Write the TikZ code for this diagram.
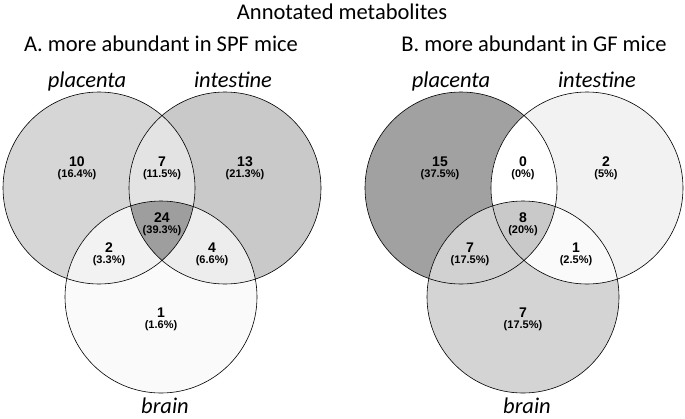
\documentclass[tikz,border=0pt]{standalone}
\usepackage{fontspec}
\setmainfont{Carlito}
\newfontfamily\numfont{Liberation Sans}
\usetikzlibrary{calc}

% grey levels of the regions
\definecolor{aP}{gray}{0.84}
\definecolor{aI}{gray}{0.79}
\definecolor{aPI}{gray}{0.89}
\definecolor{aPB}{gray}{0.95}
\definecolor{aIB}{gray}{0.93}
\definecolor{aPIB}{gray}{0.62}
\definecolor{aB}{gray}{0.98}
\definecolor{bP}{gray}{0.63}
\definecolor{bI}{gray}{0.95}
\definecolor{bPI}{gray}{1.00}
\definecolor{bPB}{gray}{0.82}
\definecolor{bIB}{gray}{0.98}
\definecolor{bPIB}{gray}{0.79}
\definecolor{bB}{gray}{0.83}

\tikzset{
  ring/.style={draw=black, line width=0.6pt},
  setname/.style={anchor=base, font=\fontsize{22.5}{24}\selectfont\itshape},
  count/.style={align=center, inner sep=0pt, font=\numfont\bfseries\fontsize{14}{13}\selectfont},
  heading/.style={anchor=base, font=\fontsize{22.5}{24}\selectfont}
}
\newcommand{\cnt}[2]{#1\\[-2pt]{\fontsize{11}{11}\selectfont(#2\%)}}

\begin{document}
\begin{tikzpicture}[x=1pt, y=-1pt]
\useasboundingbox (0,0) rectangle (685,418);

% title
\node[heading] (title) at (342,19) {Annotated metabolites};

% ---------- A ----------
\coordinate (AP) at (99,188);
\coordinate (AI) at (225,188);
\coordinate (AB) at (161,297);

% single sets
\fill[aP] (AP) circle (96);
\fill[aI] (AI) circle (96);
\fill[aB] (AB) circle (96);
% pairwise overlaps
\begin{scope}
  \clip (AP) circle (96);
  \fill[aPI] (AI) circle (96);
  \fill[aPB] (AB) circle (96);
\end{scope}
\begin{scope}
  \clip (AI) circle (96);
  \fill[aIB] (AB) circle (96);
\end{scope}
% triple overlap
\begin{scope}
  \clip (AP) circle (96);
  \clip (AI) circle (96);
  \fill[aPIB] (AB) circle (96);
\end{scope}
\draw[ring] (AP) circle (96) (AI) circle (96) (AB) circle (96);

\node[heading] (headA) at (161,51) {A. more abundant in SPF mice};
\node[setname] (nameAP) at (87,87) {placenta};
\node[setname] (nameAI) at (233,87) {intestine};
\node[setname] (nameAB) at (165,413) {brain};

\node[count] (a1) at (77,168) {\cnt{10}{16.4}};
\node[count] (a2) at (162,168) {\cnt{7}{11.5}};
\node[count] (a3) at (245,168) {\cnt{13}{21.3}};
\node[count] (a4) at (162,224) {\cnt{24}{39.3}};
\node[count] (a5) at (109,254) {\cnt{2}{3.3}};
\node[count] (a6) at (212,254) {\cnt{4}{6.6}};
\node[count] (a7) at (161,319) {\cnt{1}{1.6}};

% ---------- B ----------
\coordinate (BP) at (461,188);
\coordinate (BI) at (587,188);
\coordinate (BB) at (523,297);

% single sets
\fill[bP] (BP) circle (96);
\fill[bI] (BI) circle (96);
\fill[bB] (BB) circle (96);
% pairwise overlaps
\begin{scope}
  \clip (BP) circle (96);
  \fill[bPI] (BI) circle (96);
  \fill[bPB] (BB) circle (96);
\end{scope}
\begin{scope}
  \clip (BI) circle (96);
  \fill[bIB] (BB) circle (96);
\end{scope}
% triple overlap
\begin{scope}
  \clip (BP) circle (96);
  \clip (BI) circle (96);
  \fill[bPIB] (BB) circle (96);
\end{scope}
\draw[ring] (BP) circle (96) (BI) circle (96) (BB) circle (96);

\node[heading] (headB) at (534,51) {B. more abundant in GF mice};
\node[setname] (nameBP) at (451,87) {placenta};
\node[setname] (nameBI) at (597,87) {intestine};
\node[setname] (nameBB) at (527,413) {brain};

\node[count] (b1) at (440,168) {\cnt{15}{37.5}};
\node[count] (b2) at (523,168) {\cnt{0}{0}};
\node[count] (b3) at (606,168) {\cnt{2}{5}};
\node[count] (b4) at (523,224) {\cnt{8}{20}};
\node[count] (b5) at (470,254) {\cnt{7}{17.5}};
\node[count] (b6) at (576,254) {\cnt{1}{2.5}};
\node[count] (b7) at (523,319) {\cnt{7}{17.5}};

\end{tikzpicture}
\end{document}
